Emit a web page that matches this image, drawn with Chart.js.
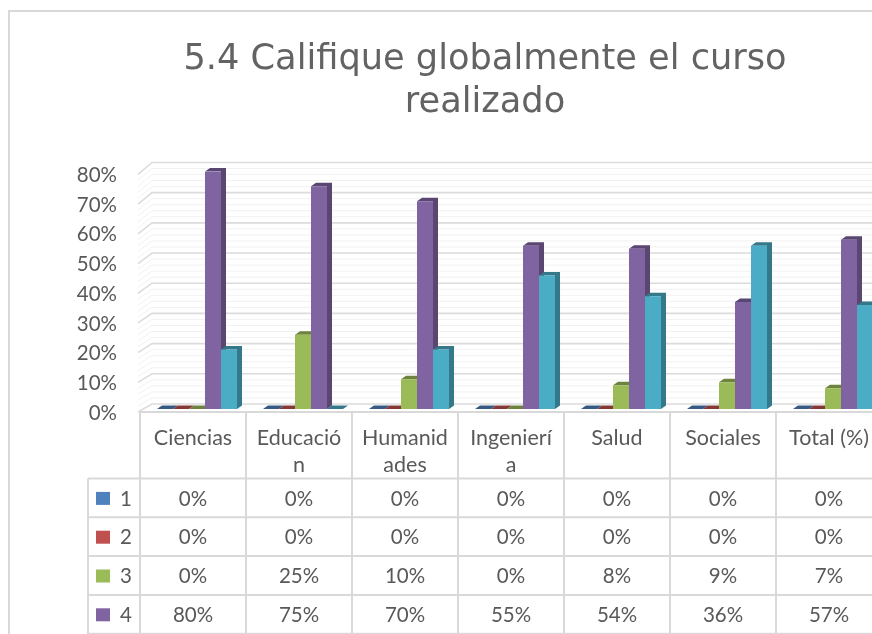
<!DOCTYPE html>
<html>
<head>
<meta charset="utf-8">
<title>5.4 Califique globalmente el curso realizado</title>
<script src="https://cdn.jsdelivr.net/npm/chart.js@4"></script>
<style>
  html, body { margin: 0; padding: 0; background: #fff; overflow: hidden; }
  /* the reference is a soft, upscaled screenshot */
  canvas { display: block; position: absolute; left: 0; top: 0; filter: blur(0.5px); }
</style>
</head>
<body>
<canvas id="myChart" width="970" height="700"></canvas>
<script>
// data
const titleLines = ['5.4 Califique globalmente el curso', 'realizado'];
const categories = [['Ciencias'], ['Educació', 'n'], ['Humanid', 'ades'], ['Ingenierí', 'a'], ['Salud'], ['Sociales'], ['Total (%)']];
const seriesNames = ['1', '2', '3', '4', '5'];
const serie1 = [0, 0, 0, 0, 0, 0, 0];
const serie2 = [0, 0, 0, 0, 0, 0, 0];
const serie3 = [0, 25, 10, 0, 8, 9, 7];
const serie4 = [80, 75, 70, 55, 54, 36, 57];
const serie5 = [20, 0, 20, 45, 38, 55, 35];
const allSeries = [serie1, serie2, serie3, serie4, serie5];

// styles
const frontColors = ['#4F81BD', '#C0504D', '#9BBB59', '#8064A2', '#4BACC6'];
const sideColors = ['#375A85', '#863836', '#6D833E', '#594671', '#347889'];
const TEXT = '#595959';
const LINE = '#D9D9D9';
const FONT = 'Lato';

const DEPTH_X = 5, DEPTH_Y = 3.5;   // relief of the bars
const WALL_X = 152;                 // back wall left edge
const FLOOR_X = 140;
const COL_SHIFT = 4;                // bars sit 4px right of the table columns
const TITLE_LEFT = 84;              // centres the title on x=485
const TABLE_TOP = 412;
const HEADER_BOTTOM = 478.5;
const ROW_H = 38.8;
const LEGEND_LEFT = 88;

// back wall and left wall, drawn behind the bars
const wall3d = {
  id: 'wall3d',
  afterLayout(chart) {
    chart.titleBlock.left = TITLE_LEFT;
  },
  beforeDatasetsDraw(chart) {
    const ctx = chart.ctx;
    const y = chart.scales.y;
    ctx.save();
    for (let v = 0; v <= 80; v += 2) {
      const major = v % 10 === 0;
      const back = y.getPixelForValue(v * 1.017) - 5;
      const front = y.getPixelForValue(v) + 3;
      ctx.strokeStyle = major ? '#DCDCDC' : '#F1F1F1';
      ctx.lineWidth = major ? 1.6 : 1;
      ctx.beginPath();
      ctx.moveTo(FLOOR_X - 2, front);
      ctx.lineTo(WALL_X, back);
      ctx.lineTo(chart.width, back);
      ctx.stroke();
    }
    ctx.restore();
  }
};

// side and top faces, all painted before the library draws the front faces
const bars3d = {
  id: 'bars3d',
  beforeDatasetsDraw(chart) {
    const ctx = chart.ctx;
    ctx.save();
    allSeries.forEach((values, s) => {
      ctx.fillStyle = sideColors[s];
      chart.getDatasetMeta(s).data.forEach((bar) => {
        const p = bar.getProps(['x', 'y', 'base', 'width'], true);
        const l = p.x - p.width / 2;
        const r = p.x + p.width / 2;
        ctx.beginPath();
        ctx.moveTo(l, p.y);
        ctx.lineTo(l + DEPTH_X, p.y - DEPTH_Y);
        ctx.lineTo(r + DEPTH_X, p.y - DEPTH_Y);
        ctx.lineTo(r + DEPTH_X, p.base - DEPTH_Y);
        ctx.lineTo(r, p.base);
        ctx.lineTo(r, p.y);
        ctx.closePath();
        ctx.fill();
      });
    });
    ctx.restore();
  }
};

// outer frame and data table
const dataTable = {
  id: 'dataTable',
  beforeDraw(chart) {
    const ctx = chart.ctx;
    ctx.save();
    ctx.strokeStyle = LINE;
    ctx.lineWidth = 2;
    ctx.strokeRect(9, 11, 2000, 2000);
    ctx.restore();
  },
  afterDraw(chart) {
    const ctx = chart.ctx;
    const x = chart.scales.x;
    const colW = x.getPixelForTick(1) - x.getPixelForTick(0);
    const colX = (i) => x.getPixelForTick(i) - COL_SHIFT;
    const firstCol = colX(0) - colW / 2;
    const lastCol = colX(categories.length - 1) + colW / 2;
    const rowY = (r) => HEADER_BOTTOM + r * ROW_H;
    const tableBottom = rowY(seriesNames.length);

    ctx.save();
    ctx.strokeStyle = LINE;
    ctx.lineWidth = 2;
    ctx.beginPath();
    // vertical lines
    for (let i = 0; i <= categories.length; i++) {
      const px = firstCol + i * colW;
      ctx.moveTo(px, TABLE_TOP);
      ctx.lineTo(px, tableBottom);
    }
    ctx.moveTo(LEGEND_LEFT, HEADER_BOTTOM);
    ctx.lineTo(LEGEND_LEFT, tableBottom);
    // horizontal lines
    ctx.moveTo(firstCol, TABLE_TOP);
    ctx.lineTo(lastCol, TABLE_TOP);
    for (let r = 0; r <= seriesNames.length; r++) {
      ctx.moveTo(LEGEND_LEFT, rowY(r));
      ctx.lineTo(lastCol, rowY(r));
    }
    ctx.stroke();

    ctx.font = '20.5px ' + FONT;
    ctx.fillStyle = TEXT;
    ctx.textAlign = 'center';
    ctx.textBaseline = 'middle';
    seriesNames.forEach((name, r) => {
      const cy = rowY(r) + ROW_H / 2 + 1;
      ctx.fillStyle = frontColors[r];
      ctx.fillRect(96, cy - 7, 14, 13);
      ctx.fillStyle = TEXT;
      ctx.fillText(name, 126, cy);
      allSeries[r].forEach((v, i) => {
        ctx.fillText(v + '%', colX(i), cy);
      });
    });
    ctx.restore();
  }
};

new Chart(document.getElementById('myChart'), {
  type: 'bar',
  data: {
    labels: categories,
    datasets: allSeries.map((values, i) => ({
      label: seriesNames[i],
      data: values,
      backgroundColor: frontColors[i]
    }))
  },
  options: {
    responsive: false,
    animation: false,
    layout: { padding: { left: 0, right: 84, top: 0, bottom: 221 } },
    plugins: {
      legend: { display: false },
      tooltip: { enabled: false },
      title: {
        display: true,
        text: titleLines,
        color: '#636363',
        font: { family: 'DejaVu Sans', size: 35.2, weight: 'normal', lineHeight: 1.2 },
        padding: { top: 39, bottom: 48 }
      }
    },
    datasets: { bar: { categoryPercentage: 0.755, barPercentage: 1 } },
    scales: {
      x: {
        grid: { display: false, drawTicks: false },
        border: { display: false },
        afterFit: (scale) => { scale.height = 70; },
        ticks: {
          autoSkip: false,
          maxRotation: 0,
          minRotation: 0,
          padding: 16,
          labelOffset: -COL_SHIFT,
          color: TEXT,
          font: { family: FONT, size: 21.5, lineHeight: 1.25 }
        }
      },
      y: {
        min: 0,
        max: 80,
        grid: { display: false, drawTicks: false },
        border: { display: false },
        afterFit: (scale) => { scale.width = 144; },
        ticks: {
          stepSize: 10,
          padding: 27,
          labelOffset: 4,
          color: TEXT,
          font: { family: FONT, size: 20.5 },
          callback: (v) => v + '%'
        }
      }
    }
  },
  plugins: [wall3d, bars3d, dataTable]
});
</script>
</body>
</html>
